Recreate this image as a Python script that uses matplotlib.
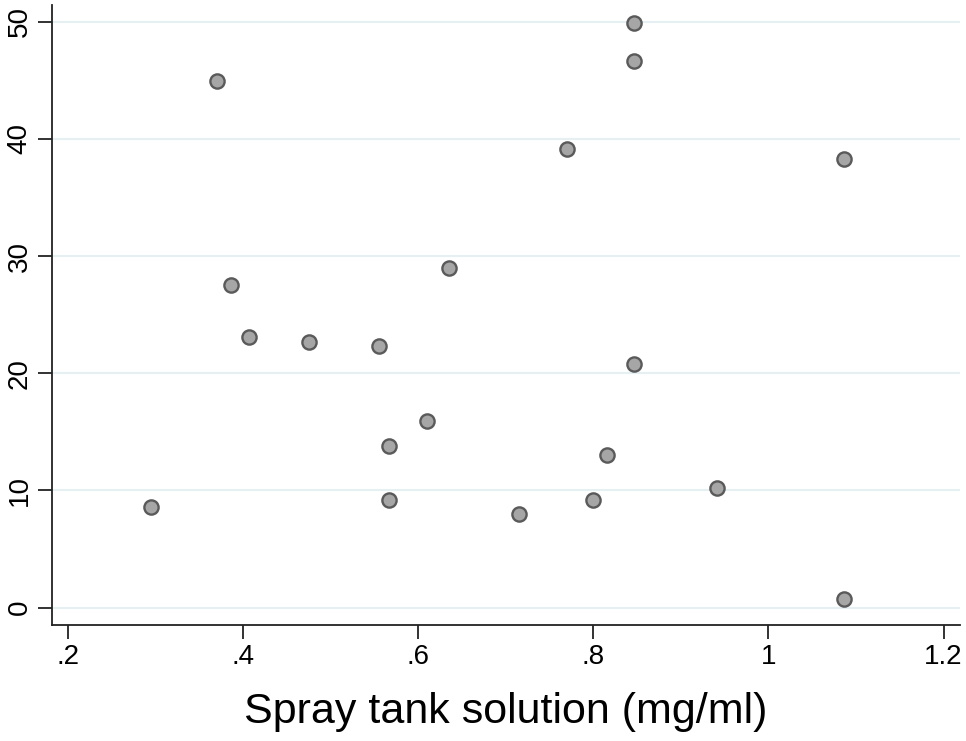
import matplotlib.pyplot as plt

plt.rcParams['font.family'] = ['Liberation Sans', 'DejaVu Sans']

# concentration in spray tank (mg/ml) vs response
conc = [0.295, 0.370, 0.386, 0.406, 0.475, 0.555, 0.566, 0.566, 0.610, 0.635,
        0.715, 0.770, 0.800, 0.815, 0.846, 0.846, 0.846, 0.941, 1.086, 1.086]
resp = [8.6, 44.9, 27.5, 23.1, 22.7, 22.3, 13.8, 9.2, 15.9, 29.0,
        8.0, 39.1, 9.2, 13.0, 49.9, 46.6, 20.8, 10.2, 38.3, 0.7]

xticks = [0.2, 0.4, 0.6, 0.8, 1.0, 1.2]
xticklabels = ['.2', '.4', '.6', '.8', '1', '1.2']
yticks = [0, 10, 20, 30, 40, 50]

fig = plt.figure(figsize=(9.66, 7.41), dpi=100)
ax = fig.add_axes([0.054, 0.157, 0.940, 0.836])

for y in yticks:
    ax.axhline(y, color='#e6eff2', lw=1.5, zorder=0)

ax.scatter(conc, resp, s=105, facecolor='#a6a6a6', edgecolor='#5a5a5a', linewidth=1.7, zorder=3)

ax.set_xlim(0.1817, 1.219)
ax.set_ylim(-1.45, 51.4)
ax.set_xticks(xticks)
ax.set_xticklabels(xticklabels)
ax.set_yticks(yticks)
ax.set_yticklabels([str(v) for v in yticks], rotation=90, va='center')
ax.tick_params(axis='both', length=10, width=1.3, labelsize=20, color='#222222')
ax.tick_params(axis='x', pad=4)
ax.tick_params(axis='y', pad=4)

ax.spines['top'].set_visible(False)
ax.spines['right'].set_visible(False)
for s in ['left', 'bottom']:
    ax.spines[s].set_linewidth(1.3)
    ax.spines[s].set_color('#222222')

ax.set_xlabel('Spray tank solution (mg/ml)', fontsize=31, labelpad=16)

fig.savefig('out.png', dpi=100)
